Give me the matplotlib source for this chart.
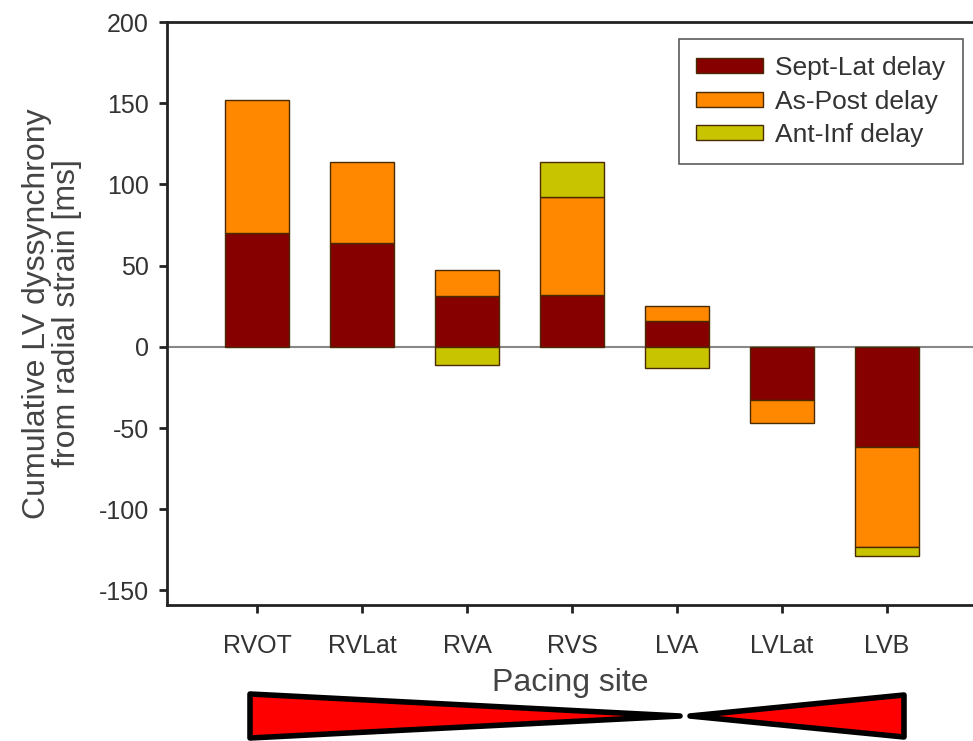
import matplotlib
matplotlib.use("Agg")
import matplotlib.pyplot as plt
from matplotlib.patches import Polygon
import numpy as np

plt.rcParams['font.family'] = ['Liberation Sans', 'DejaVu Sans']
plt.rcParams['axes.unicode_minus'] = False

sites = ["RVOT", "RVLat", "RVA", "RVS", "LVA", "LVLat", "LVB"]
sept_lat = [70, 64, 31, 32, 16, -33, -62]
as_post = [82, 50, 16, 60, 9, -14, -61]
ant_inf = [0, 0, -11, 22, -13, 0, -6]
series_names = ["Sept-Lat delay", "As-Post delay", "Ant-Inf delay"]
colors = ["#870000", "#FF8800", "#C8C400"]
edge = "#4a2a00"

fig = plt.figure(figsize=(9.73, 7.41), dpi=100)
ax = fig.add_axes([0.1716, 0.1835, 0.8284, 0.7868])

x = np.arange(len(sites))
pos_base = np.zeros(len(sites))
neg_base = np.zeros(len(sites))
handles = []
for vals, name, c in zip([sept_lat, as_post, ant_inf], series_names, colors):
    vals = np.array(vals, dtype=float)
    bottoms = np.where(vals >= 0, pos_base, neg_base)
    mask = vals != 0
    b = ax.bar(x[mask], vals[mask], bottom=bottoms[mask], width=0.61,
               color=c, edgecolor=edge, linewidth=1.0, label=name, zorder=3)
    handles.append(b)
    pos_base = np.where(vals >= 0, pos_base + vals, pos_base)
    neg_base = np.where(vals < 0, neg_base + vals, neg_base)

ax.axhline(0, color="#888888", linewidth=1.5, zorder=2)
ax.set_xlim(-0.86, 6.82)
ax.set_ylim(-159, 200)
ax.set_yticks([-150, -100, -50, 0, 50, 100, 150, 200])
ax.set_xticks(x)
ax.set_xticklabels(sites)
ax.spines['right'].set_visible(False)
for s in ['left', 'top', 'bottom']:
    ax.spines[s].set_linewidth(2)
    ax.spines[s].set_color("#222222")
ax.tick_params(axis='both', direction='out', length=6, width=2, colors="#222222",
               labelsize=18, labelcolor="#333333")
ax.tick_params(axis='x', pad=15)
ax.tick_params(axis='y', pad=7)
ax.set_ylabel("Cumulative LV dyssynchrony\nfrom radial strain [ms]", fontsize=23,
              color="#444444", labelpad=12, linespacing=1.0)
ax.set_xlabel("Pacing site", fontsize=23, color="#444444", labelpad=7)

leg = ax.legend(handles=handles, labels=series_names, loc="upper right",
                bbox_to_anchor=(0.987, 0.971), fontsize=19, frameon=True,
                fancybox=False, edgecolor="#333333", handlelength=2.55,
                handleheight=0.5, handletextpad=0.45, borderpad=0.65,
                labelspacing=0.36, borderaxespad=0.0)
leg.get_frame().set_linewidth(1.2)
for t in leg.get_texts():
    t.set_color("#333333")

W, H = 973.0, 741.0
def fc(px, py):
    return (px / W, 1 - py / H)
left_tri = Polygon([fc(250, 694), fc(680, 716), fc(250, 738)], closed=True,
                   transform=fig.transFigure, facecolor="#FF0000", edgecolor="black",
                   linewidth=4, joinstyle="round")
right_tri = Polygon([fc(904, 695), fc(690, 716), fc(904, 737)], closed=True,
                    transform=fig.transFigure, facecolor="#FF0000", edgecolor="black",
                    linewidth=4, joinstyle="round")
fig.patches.extend([left_tri, right_tri])

fig.savefig("out.png", dpi=100)
